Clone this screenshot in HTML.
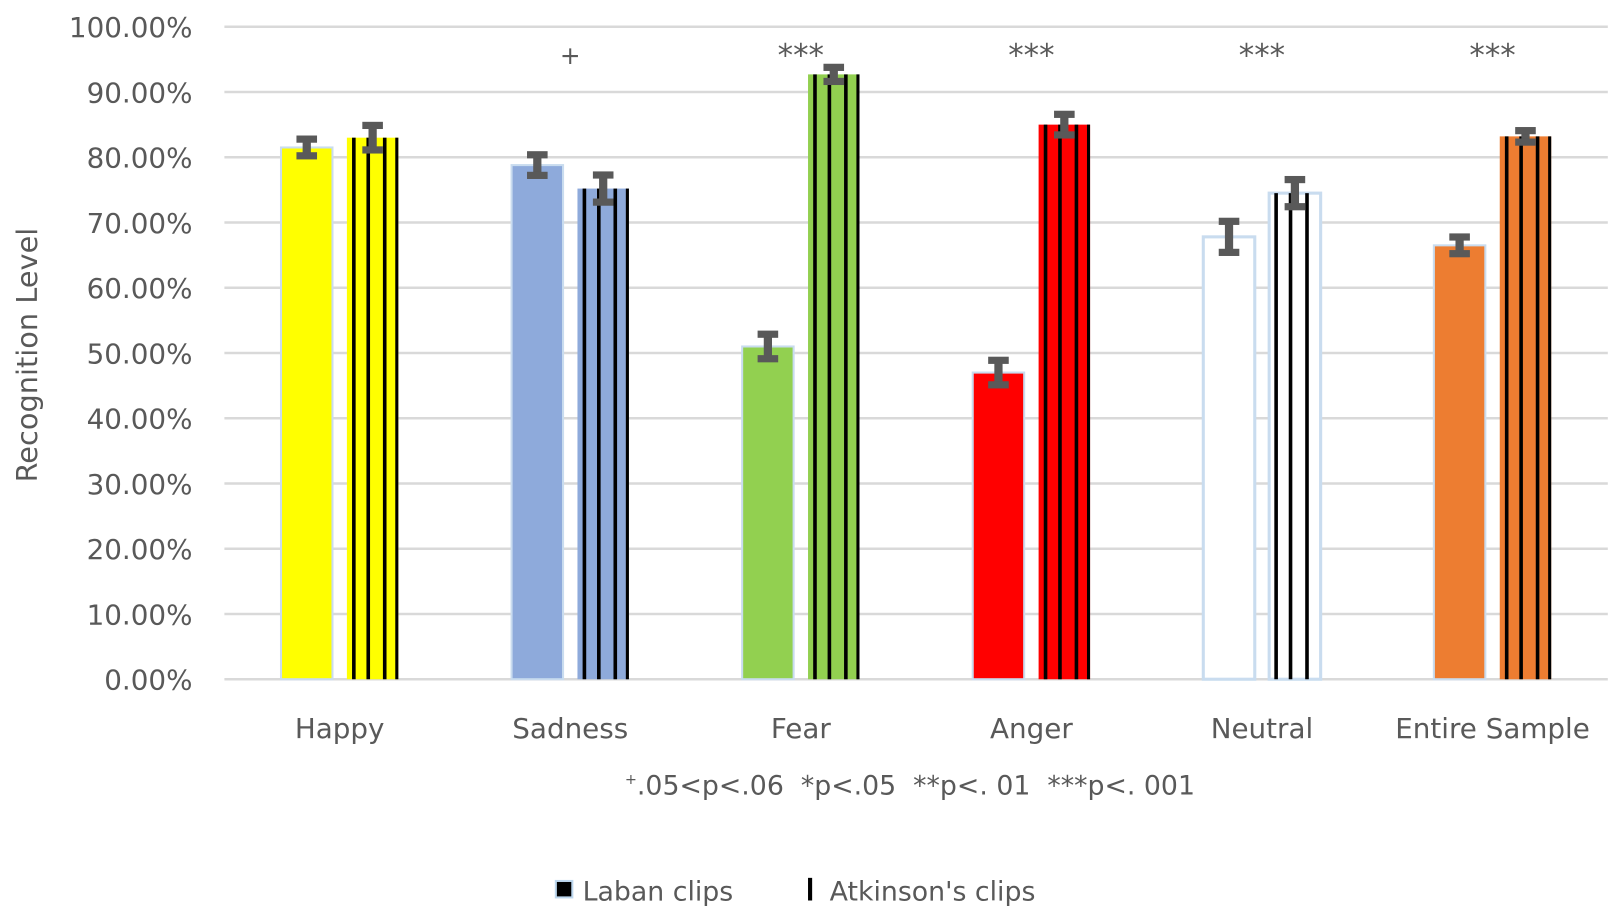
<!DOCTYPE html>
<html><head><meta charset="utf-8"><style>
html,body{margin:0;padding:0;background:#fff}
svg{display:block}
text{font-family:"DejaVu Sans","Liberation Sans",sans-serif;fill:#595959;white-space:pre}
</style></head><body>
<svg id="chart" width="1614" height="918" viewBox="0 0 1568 892" preserveAspectRatio="none" xmlns="http://www.w3.org/2000/svg">
<g id="grid"></g>
<g id="yticks"></g>
<text transform="translate(36,345) rotate(-90)" text-anchor="middle" font-size="28">Recognition Level</text>
<g id="bars"></g>
<g id="xlabels"></g>
<text x="884" y="772" text-anchor="middle" font-size="26"><tspan font-size="14" dy="-10">+</tspan><tspan dy="10">.05&lt;p&lt;.06  *p&lt;.05  **p&lt;. 01  ***p&lt;. 001</tspan></text>
<g>
<g>
<rect x="540" y="856" width="16" height="16" fill="#000" stroke="#bdd7ee" stroke-width="2"/>
<text x="566" y="875" font-size="26">Laban clips</text></g>
<g>
<rect x="785" y="853" width="4" height="22" fill="#000"/>
<text x="806" y="875" font-size="26">Atkinson's clips</text></g>
</g>
</svg>
<script>
const categories = ["Happy","Sadness","Fear","Anger","Neutral","Entire Sample"];
const labanValues = [81.5,78.8,51.0,47.0,67.8,66.5];
const atkinsonValues = [83.0,75.2,92.7,85.0,74.5,83.2];
const labanErrors = [1.2,1.5,1.8,1.8,2.3,1.2];
const atkinsonErrors = [1.8,2.0,1.0,1.5,2.0,0.8];
const significance = ["","+","***","***","***","***"];
const yTicks = [0,10,20,30,40,50,60,70,80,90,100];
const colors = ["#ffff00","#8eaadb","#92d050","#ff0000","#ffffff","#ed7d31"];

const NS="http://www.w3.org/2000/svg";
const x0=218,x1=1562,yTop=26,yBot=660;
const band=(x1-x0)/categories.length;
function y(v){return yBot-(v/100)*(yBot-yTop);}
function cx(i){return x0+band*(i+0.5);}
function mk(tag,attrs,parent){const e=document.createElementNS(NS,tag);for(const k in attrs)e.setAttribute(k,attrs[k]);parent.appendChild(e);return e;}
const grid=document.getElementById('grid'),yt=document.getElementById('yticks'),bars=document.getElementById('bars'),xl=document.getElementById('xlabels');
yTicks.forEach(t=>{
  const l=mk('line',{x1:x0,x2:x1,y1:y(t),y2:y(t),stroke:'#d9d9d9','stroke-width':2.5},grid);
  
  
  const tx=mk('text',{x:187,y:y(t)+10,'text-anchor':'end','font-size':27},yt);
  tx.textContent=t.toFixed(2)+'%';
  
  
});
const bw=50,off=32;
function err(xc,v,e,g){
  const c='#595959';
  mk('rect',{x:xc-4,y:y(v+e),width:8,height:y(v-e)-y(v+e),fill:c},g);
  mk('rect',{x:xc-10,y:y(v+e)-4,width:20,height:7,fill:c},g);
  mk('rect',{x:xc-10,y:y(v-e)-3,width:20,height:7,fill:c},g);
}
categories.forEach((c,i)=>{
  const xc=cx(i);
  const g1=mk('g',{},bars);
  
  
  const lx=xc-off-bw/2, lv=labanValues[i];
  mk('rect',{x:lx,y:y(lv),width:bw,height:yBot-y(lv),fill:colors[i],stroke:'#c9dcef','stroke-width':colors[i]==='#ffffff'?3:2},g1);
  err(xc-off,lv,labanErrors[i],g1);
  const g2=mk('g',{},bars);
  
  
  const ax=xc+off-bw/2, av=atkinsonValues[i];
  mk('rect',{x:ax,y:y(av),width:bw,height:yBot-y(av),fill:colors[i],stroke:colors[i]==='#ffffff'?'#c9dcef':'none','stroke-width':3},g2);
  [0.1,0.38,0.7].forEach(f=>mk('rect',{x:ax+bw*f,y:y(av),width:3.5,height:yBot-y(av),fill:'#000'},g2));
  if(colors[i]!=='#ffffff') mk('rect',{x:ax+bw-3,y:y(av),width:3,height:yBot-y(av),fill:'#000'},g2);
  err(xc+off,av,atkinsonErrors[i],g2);
  const t=mk('text',{x:xc,y:717,'text-anchor':'middle','font-size':27},xl);
  t.textContent=c;
  
  
  if(significance[i]){
    const s=mk('text',{x:xc,y:significance[i]==='+'?62:64,'text-anchor':'middle','font-size':significance[i]==='+'?24:30},xl);
    s.textContent=significance[i];
    
    
  }
});
</script>
</body></html>
